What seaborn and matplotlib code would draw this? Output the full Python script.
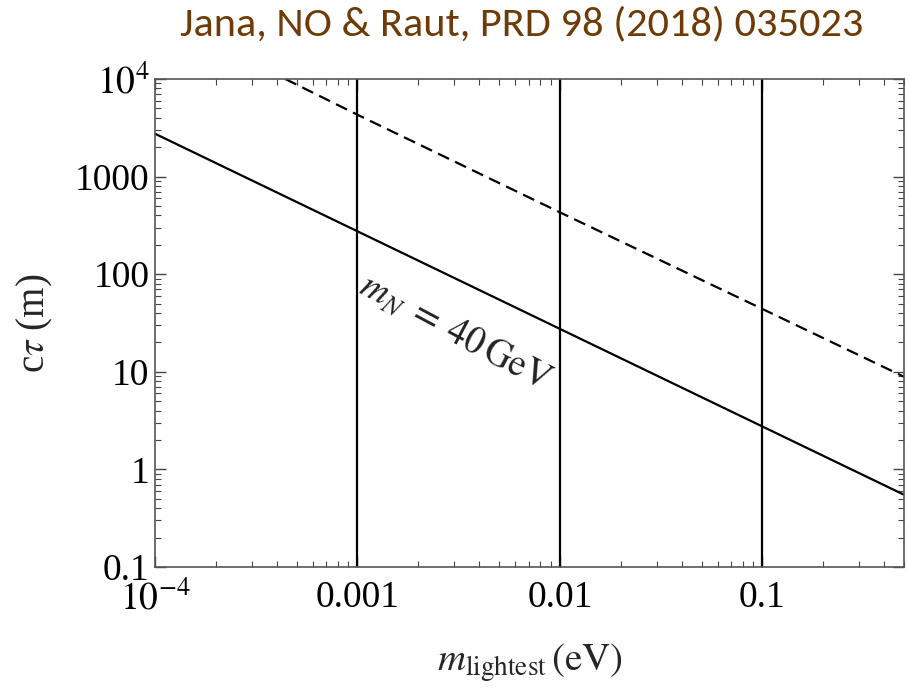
import numpy as np
import pandas as pd
import matplotlib
matplotlib.use("Agg")
import matplotlib.pyplot as plt
import matplotlib.ticker as mticker
import seaborn as sns

# ---- data ----
solid_x = [1e-4, 1e-3, 1e-2, 1e-1, 0.5]
solid_y = [2750, 275, 27.5, 2.75, 0.55]
dashed_x = [4.4e-4, 1e-3, 1e-2, 1e-1, 0.5]
dashed_y = [1e4, 4300, 430, 44, 8.9]
vlines_x = [1e-3, 1e-2, 1e-1]
xticks = [1e-4, 1e-3, 1e-2, 1e-1]
xticklabels = [r"$10^{-4}$", "0.001", "0.01", "0.1"]
yticks = [0.1, 1, 10, 100, 1000, 1e4]
yticklabels = ["0.1", "1", "10", "100", "1000", r"$10^{4}$"]

sns.set_style("ticks")
plt.rcParams["font.family"] = ["Liberation Serif", "DejaVu Serif"]
plt.rcParams["mathtext.fontset"] = "stix"

fig = plt.figure(figsize=(9.08, 6.88), dpi=100)
ax = fig.add_axes([155 / 908, 1 - 567 / 688, 749 / 908, 488 / 688])

df_s = pd.DataFrame({"x": solid_x, "y": solid_y})
df_d = pd.DataFrame({"x": dashed_x, "y": dashed_y})
sns.lineplot(data=df_s, x="x", y="y", ax=ax, color="black", lw=1.6, sort=True)
sns.lineplot(data=df_d, x="x", y="y", ax=ax, color="black", lw=1.6, sort=True)
ax.lines[-1].set_dashes([5.5, 3])
for xv in vlines_x:
    ax.axvline(xv, color="black", lw=1.6)

ax.set_xscale("log")
ax.set_yscale("log")
ax.set_xlim(1e-4, 0.5)
ax.set_ylim(0.1, 1e4)

ax.set_xticks(xticks)
ax.set_xticklabels(xticklabels)
ax.set_yticks(yticks)
ax.set_yticklabels(yticklabels)
ax.xaxis.set_minor_locator(mticker.LogLocator(base=10, subs=np.arange(2, 10)))
ax.yaxis.set_minor_locator(mticker.LogLocator(base=10, subs=np.arange(2, 10)))
ax.xaxis.set_minor_formatter(mticker.NullFormatter())
ax.yaxis.set_minor_formatter(mticker.NullFormatter())
ax.tick_params(which="both", direction="in", top=True, right=True,
               color="#444444", labelsize=27, labelcolor="black")
ax.tick_params(which="major", length=8, width=1)
ax.tick_params(which="minor", length=4, width=0.8)
ax.tick_params(axis="x", which="major", pad=10)
ax.tick_params(axis="y", which="major", pad=4)
for sp in ax.spines.values():
    sp.set_color("#555555")
    sp.set_linewidth(1.2)

ax.set_xlabel(r"$m_{\mathrm{lightest}}\,(\mathrm{eV})$", fontsize=28, labelpad=17)
ax.set_ylabel(r"c$\tau$ (m)", fontsize=28, labelpad=14)

ax.text(1.15e-3, 118, r"$m_N\;=\;40\,\mathrm{GeV}$", fontsize=27, rotation=-28,
        ha="left", va="top", rotation_mode="anchor", color="#222222")

fig.text(522 / 908, 1 - 35 / 688, "Jana, NO & Raut, PRD 98 (2018) 035023",
         fontsize=30.5, color="#6e3a06", ha="center", va="baseline",
         family=["Carlito", "Lato", "DejaVu Sans"])

fig.savefig("out.png", dpi=100)
